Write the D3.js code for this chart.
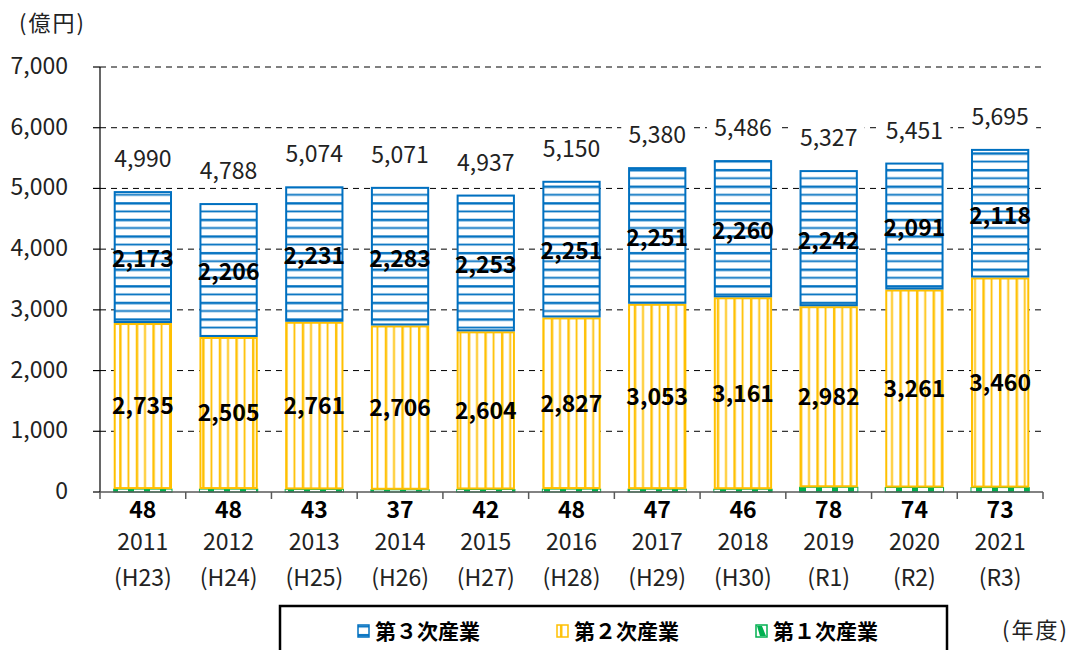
<!DOCTYPE html>
<html>
<head>
<meta charset="utf-8">
<script src="https://cdn.jsdelivr.net/npm/d3@7"></script>
<style>
  body { margin: 0; background: #fff; }
  svg { display: block; font-family: "Noto Sans CJK JP", "Noto Sans", sans-serif; }
</style>
</head>
<body>
<div id="chart"></div>
<script>
// data
const years = ['2011', '2012', '2013', '2014', '2015', '2016', '2017', '2018', '2019', '2020', '2021'];
const eras = ['(H23)', '(H24)', '(H25)', '(H26)', '(H27)', '(H28)', '(H29)', '(H30)', '(R1)', '(R2)', '(R3)'];
const primary = [48, 48, 43, 37, 42, 48, 47, 46, 78, 74, 73];
const secondary = [2735, 2505, 2761, 2706, 2604, 2827, 3053, 3161, 2982, 3261, 3460];
const tertiary = [2173, 2206, 2231, 2283, 2253, 2251, 2251, 2260, 2242, 2091, 2118];
const totals = [4990, 4788, 5074, 5071, 4937, 5150, 5380, 5486, 5327, 5451, 5695];
const yTicks = [0, 1000, 2000, 3000, 4000, 5000, 6000, 7000];

const width = 1073;
const height = 650;
const MARGIN_LEFT = 100;
const MARGIN_RIGHT = 30;
const Y_TOP = 67;
const Y_BOTTOM = 492;

const fmt = d3.format(',');

const svg = d3.select('#chart').append('svg')
  .attr('width', width)
  .attr('height', height);

// patterns
const defs = svg.append('defs');
const pBlue = defs.append('pattern').attr('id', 'pBlue')
  .attr('patternUnits', 'userSpaceOnUse').attr('width', 10).attr('height', 16.6);
pBlue.append('rect').attr('width', 10).attr('height', 16.6).attr('fill', '#fff');
pBlue.append('rect').attr('y', 3).attr('width', 10).attr('height', 2.4).attr('fill', '#0070c0');
pBlue.append('rect').attr('y', 11.3).attr('width', 10).attr('height', 1.8).attr('fill', '#0070c0');

const pYellow = defs.append('pattern').attr('id', 'pYellow')
  .attr('patternUnits', 'userSpaceOnUse').attr('width', 16.6).attr('height', 10);
pYellow.append('rect').attr('width', 16.6).attr('height', 10).attr('fill', '#fff');
pYellow.append('rect').attr('x', 3).attr('width', 2.4).attr('height', 10).attr('fill', '#ffc000');
pYellow.append('rect').attr('x', 11.3).attr('width', 1.8).attr('height', 10).attr('fill', '#ffc000');

const pGreen = defs.append('pattern').attr('id', 'pGreen')
  .attr('patternUnits', 'userSpaceOnUse').attr('width', 16).attr('height', 6);
pGreen.append('rect').attr('width', 16).attr('height', 6).attr('fill', '#fff');
pGreen.append('rect').attr('x', 0).attr('width', 6).attr('height', 6).attr('fill', '#00b050');

// scales
const x = d3.scaleBand()
  .domain(years)
  .range([MARGIN_LEFT, width - MARGIN_RIGHT])
  .paddingInner(0.32)
  .paddingOuter(0.16);

const y = d3.scaleLinear()
  .domain([0, 7000])
  .range([Y_BOTTOM, Y_TOP]);

// gridlines
svg.append('g').selectAll('line')
  .data(yTicks.filter(d => d > 0))
  .join('line')
  .attr('x1', MARGIN_LEFT).attr('x2', width - MARGIN_RIGHT)
  .attr('y1', d => y(d)).attr('y2', d => y(d))
  .attr('stroke', '#000').attr('stroke-width', 1)
  .attr('stroke-dasharray', '6,5');

// stacked data
const rows = years.map((yr, i) => ({
  year: yr, era: eras[i], p: primary[i], s: secondary[i], t: tertiary[i], total: totals[i]
}));

const $bars = svg.append('g');
// primary
$bars.selectAll('.b1').data(rows).join('rect')
  .attr('x', d => x(d.year)).attr('width', x.bandwidth())
  .attr('y', d => y(d.p)).attr('height', d => y(0) - y(d.p))
  .attr('fill', 'url(#pGreen)').attr('stroke', '#00b050').attr('stroke-width', 1);
// secondary
$bars.selectAll('.b2').data(rows).join('rect')
  .attr('x', d => x(d.year) + 1).attr('width', x.bandwidth() - 2)
  .attr('y', d => y(d.p + d.s) + 1).attr('height', d => y(d.p) - y(d.p + d.s) - 2)
  .attr('fill', 'url(#pYellow)').attr('stroke', '#ffc000').attr('stroke-width', 2);
// tertiary
$bars.selectAll('.b3').data(rows).join('rect')
  .attr('x', d => x(d.year) + 1).attr('width', x.bandwidth() - 2)
  .attr('y', d => y(d.p + d.s + d.t) + 1).attr('height', d => y(d.p + d.s) - y(d.p + d.s + d.t) - 2)
  .attr('fill', 'url(#pBlue)').attr('stroke', '#0070c0').attr('stroke-width', 2);

// axes
svg.append('line')
  .attr('x1', MARGIN_LEFT).attr('x2', MARGIN_LEFT)
  .attr('y1', Y_TOP).attr('y2', Y_BOTTOM)
  .attr('stroke', '#000').attr('stroke-width', 1.2);
svg.append('g').selectAll('line').data(yTicks).join('line')
  .attr('x1', MARGIN_LEFT - 7).attr('x2', MARGIN_LEFT)
  .attr('y1', d => y(d)).attr('y2', d => y(d))
  .attr('stroke', '#000').attr('stroke-width', 1.2);
svg.append('g').selectAll('text').data(yTicks).join('text')
  .attr('x', 68).attr('y', d => y(d) + 7)
  .attr('text-anchor', 'end')
  .attr('font-size', 23).attr('fill', '#222')
  .text(d => fmt(d));

svg.append('line')
  .attr('x1', MARGIN_LEFT).attr('x2', width - MARGIN_RIGHT)
  .attr('y1', Y_BOTTOM).attr('y2', Y_BOTTOM)
  .attr('stroke', '#595959').attr('stroke-width', 1.5);
svg.append('g').selectAll('line').data(d3.range(years.length + 1)).join('line')
  .attr('x1', i => MARGIN_LEFT + i * (width - MARGIN_RIGHT - MARGIN_LEFT) / years.length)
  .attr('x2', i => MARGIN_LEFT + i * (width - MARGIN_RIGHT - MARGIN_LEFT) / years.length)
  .attr('y1', Y_BOTTOM).attr('y2', Y_BOTTOM + 7)
  .attr('stroke', '#595959').attr('stroke-width', 1.5);

const cx = d => x(d.year) + x.bandwidth() / 2;

// year labels
svg.append('g').selectAll('text').data(rows).join('text')
  .attr('x', cx).attr('y', 550)
  .attr('text-anchor', 'middle').attr('font-size', 23).attr('fill', '#222')
  .text(d => d.year);
svg.append('g').selectAll('text').data(rows).join('text')
  .attr('x', cx).attr('y', 586)
  .attr('text-anchor', 'middle').attr('font-size', 23).attr('fill', '#222')
  .text(d => d.era);

// primary labels below axis
svg.append('g').selectAll('text').data(rows).join('text')
  .attr('x', cx).attr('y', 518)
  .attr('text-anchor', 'middle').attr('font-size', 23).attr('font-weight', 'bold')
  .attr('fill', '#000')
  .text(d => d.p);

// segment labels
svg.append('g').selectAll('text').data(rows).join('text')
  .attr('x', cx).attr('y', d => y(d.p + d.s / 2))
  .attr('dy', '0.36em')
  .attr('text-anchor', 'middle').attr('font-size', 23).attr('font-weight', 'bold')
  .attr('fill', '#000')
  .text(d => fmt(d.s));
svg.append('g').selectAll('text').data(rows).join('text')
  .attr('x', cx).attr('y', d => y(d.p + d.s + d.t / 2))
  .attr('dy', '0.45em')
  .attr('text-anchor', 'middle').attr('font-size', 23).attr('font-weight', 'bold')
  .attr('fill', '#000')
  .text(d => fmt(d.t));

// total labels with white backing
const $tot = svg.append('g').selectAll('g').data(rows).join('g')
  .attr('transform', d => `translate(${cx(d)},${y(d.p + d.s + d.t) - 24})`);
$tot.append('rect')
  .attr('x', -36).attr('y', -24).attr('width', 72).attr('height', 30)
  .attr('fill', '#fff');
$tot.append('text')
  .attr('text-anchor', 'middle').attr('font-size', 23).attr('fill', '#222')
  .text(d => fmt(d.total));

// unit labels
svg.append('text').attr('x', 19).attr('y', 31)
  .attr('font-size', 22).attr('letter-spacing', 2).attr('fill', '#222').text('(億円)');
svg.append('text').attr('x', 1002).attr('y', 638)
  .attr('font-size', 22).attr('letter-spacing', 2).attr('fill', '#222').text('(年度)');

// legend
svg.append('rect')
  .attr('x', 280).attr('y', 606).attr('width', 667).attr('height', 60)
  .attr('fill', '#fff').attr('stroke', '#000').attr('stroke-width', 2.5);

const legendItems = [
  { label: '第３次産業', fill: 'url(#pBlue)', stroke: '#0070c0', x: 358 },
  { label: '第２次産業', fill: 'url(#pYellow)', stroke: '#ffc000', x: 557 },
  { label: '第１次産業', fill: '#fff', stroke: '#00b050', x: 756 }
];
const $leg = svg.append('g').selectAll('g').data(legendItems).join('g')
  .attr('transform', d => `translate(${d.x},631)`);
$leg.append('rect')
  .attr('x', 0).attr('y', -6).attr('width', 11).attr('height', 12)
  .attr('fill', d => d.fill).attr('stroke', d => d.stroke).attr('stroke-width', 1.5);
$leg.filter(d => d.label === '第１次産業').append('path')
  .attr('d', 'M1,-5 L6,-5 L10,5 L4,5 Z').attr('fill', '#00b050');
$leg.append('text')
  .attr('x', 17).attr('dy', '0.38em')
  .attr('font-size', 21).attr('font-weight', 'bold').attr('fill', '#000')
  .text(d => d.label);
</script>
</body>
</html>
